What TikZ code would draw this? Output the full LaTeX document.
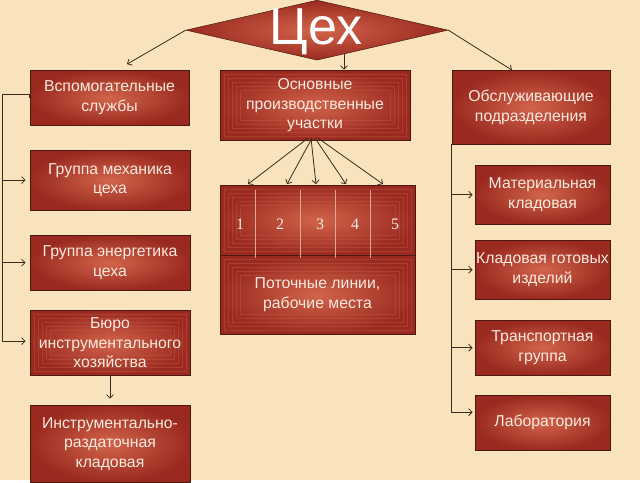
\documentclass[tikz,border=0pt]{standalone}
\usepackage{fontspec}
\setmainfont{Liberation Sans}
\newfontfamily\numfont{Liberation Serif}
\usetikzlibrary{shapes.geometric,arrows.meta}
\definecolor{bg}{HTML}{F8E3BC}
\definecolor{redout}{HTML}{9A2A1F}
\definecolor{redin}{HTML}{D2644B}
\definecolor{edgec}{HTML}{4A1A10}
\definecolor{txt}{HTML}{F8EADF}
\definecolor{lnc}{HTML}{3A2A1C}
\definecolor{ringc}{HTML}{C45A45}
\definecolor{divc}{HTML}{D9A698}
\begin{document}
\begin{tikzpicture}[x=1pt,y=-1pt,
  box/.style={draw=edgec, line width=0.8pt, inner color=redin, outer color=redout,
    text=txt, align=center, font=\fontsize{15.8}{19.5}\selectfont, inner sep=0pt},
  rings/.style={path picture={
    \foreach \i in {1,...,5}
      \draw[ringc, line width=0.6pt, opacity=0.4]
        ([shift={(\i*4pt,-\i*4pt)}]path picture bounding box.north west) rectangle
        ([shift={(-\i*4pt,\i*4pt)}]path picture bounding box.south east);}},
  ln/.style={draw=lnc, line width=0.8pt},
  arr/.style={ln, -{Straight Barb[length=3.5pt,width=7pt]}},
  numtxt/.style={text=txt, font=\numfont\fontsize{16}{19}\selectfont, inner sep=0pt}
]
\fill[bg] (0,0) rectangle (640,480);

% diamond
\node[diamond, draw=edgec, line width=0.5pt, inner color=redin, outer color=redout,
  minimum width=262pt, minimum height=60pt, inner sep=0pt] (cex) at (317,30) {};
\node[text=white, font=\fontsize{52}{56}\selectfont, inner sep=0pt] (cextxt) at (316,32) {Цех};

% top row
\node[box, minimum width=159pt, minimum height=55pt] (vsp) at (109.5,97.5) {Вспомогательные\\службы};
\node[box, rings, minimum width=190pt, minimum height=70pt] (osn) at (315,105) {Основные\\производственные\\участки};
\node[box, minimum width=158pt, minimum height=74pt] (obs) at (531,107) {Обслуживающие\\подразделения};

% left column
\node[box, minimum width=160pt, minimum height=60pt] (meh) at (110,180) {Группа механика\\цеха};
\node[box, minimum width=160pt, minimum height=55pt] (ene) at (110,262.5) {Группа энергетика\\цеха};
\node[box, rings, minimum width=160pt, minimum height=65pt] (bur) at (110,342.5) {Бюро\\инструментального\\хозяйства};
\node[box, minimum width=160pt, minimum height=77pt] (ins) at (110,443.5) {Инструментально-\\раздаточная\\кладовая};

% right column
\node[box, minimum width=135pt, minimum height=59pt] (mat) at (542.5,194.5) {Материальная\\кладовая};
\node[box, minimum width=135pt, minimum height=59pt] (got) at (542.5,269.5) {Кладовая готовых\\изделий};
\node[box, minimum width=135pt, minimum height=55pt] (tra) at (542.5,347.5) {Транспортная\\группа};
\node[box, minimum width=135pt, minimum height=55pt] (lab) at (542.5,422.5) {Лаборатория};

% centre block
\node[box, rings, minimum width=195pt, minimum height=70pt] (nums) at (317.5,220) {};
\node[box, rings, minimum width=195pt, minimum height=79pt] (pot) at (317.5,294.5) {Поточные линии,\\рабочие места};
\foreach \x in {255,300,335,370}
  \draw[divc, line width=0.8pt] (\x,190) -- (\x,258);
\node[numtxt] (n1) at (240,224) {1};
\node[numtxt] (n2) at (280,224) {2};
\node[numtxt] (n3) at (320,224) {3};
\node[numtxt] (n4) at (355,224) {4};
\node[numtxt] (n5) at (395,224) {5};

% connectors from the diamond
\coordinate (vspA) at (127,64);
\coordinate (obsA) at (512,70);
\coordinate (cexB) at (344,54);
\draw[arr] (cex.west) -- (vspA);
\draw[arr] (cex.east) -- (obsA);
\draw[arr] (cexB) -- (cexB |- osn.north);

% fan to the sections
\coordinate (f1) at (308,138);
\coordinate (f2) at (312,138);
\coordinate (f3) at (311,138);
\coordinate (f4) at (315,138);
\coordinate (f5) at (318,138);
\coordinate (e1) at (248,184);
\coordinate (e2) at (287,184);
\coordinate (e3) at (316,184);
\coordinate (e4) at (346,184);
\coordinate (e5) at (383,184);
\foreach \k in {1,...,5} \draw[arr] (f\k) -- (e\k);

% left bus
\coordinate (lbt) at (2,94);
\coordinate (lbb) at (2,341);
\draw[ln] (vsp.west) -- (lbt -| vsp.west) -- (lbt) -- (lbb);
\draw[arr, shorten >=4pt] (lbt |- meh.west) -- (meh.west);
\draw[arr, shorten >=4pt] (lbt |- ene.west) -- (ene.west);
\draw[arr, shorten >=4pt] (lbb) -- (lbb -| bur.west);
\draw[arr, shorten >=6pt] (bur.south) -- (ins.north);

% right bus
\coordinate (rbt) at (451,144);
\coordinate (rbb) at (451,412);
\draw[ln] (rbt) -- (rbb);
\draw[arr, shorten >=2pt] (rbt |- mat.west) -- (mat.west);
\draw[arr, shorten >=2pt] (rbt |- got.west) -- (got.west);
\draw[arr, shorten >=2pt] (rbt |- tra.west) -- (tra.west);
\draw[arr, shorten >=2pt] (rbb) -- (rbb -| lab.west);
\end{tikzpicture}
\end{document}
